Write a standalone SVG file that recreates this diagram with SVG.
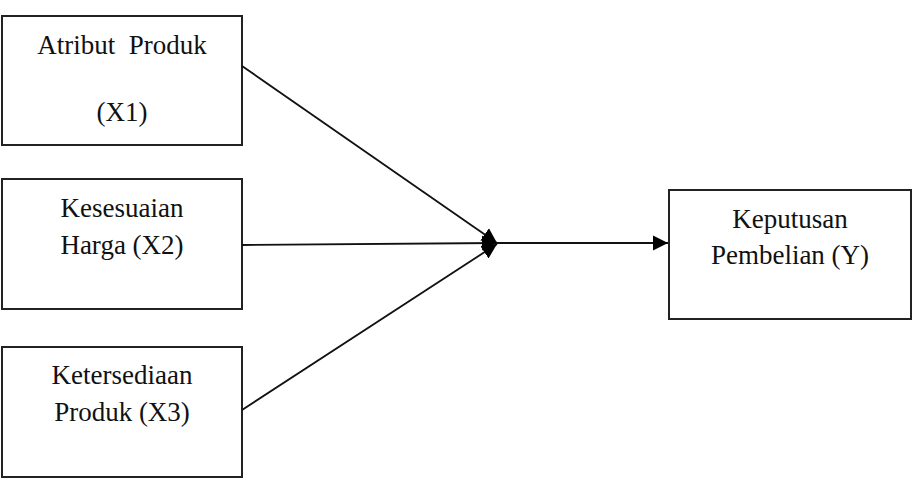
<svg xmlns="http://www.w3.org/2000/svg" width="913" height="483" viewBox="0 0 913 483">
<style>
.box{fill:#fff;stroke:#222;stroke-width:2}
.t{font-family:"Liberation Serif","Times New Roman",serif;font-size:27px;fill:#111;text-anchor:middle}
.ln{stroke:#111;stroke-width:1.8;fill:none}
</style>
<defs>
<marker id="ah" markerUnits="userSpaceOnUse" markerWidth="16" markerHeight="16" refX="15" refY="8" orient="auto">
<path d="M0,0.5 L15,8 L0,15.5 Z" fill="#000"/>
</marker>
</defs>
<rect width="913" height="483" fill="#fff"/>
<g id="x1">
<rect class="box" x="2" y="16" width="240" height="129"/>
<text class="t" x="122" y="54" xml:space="preserve">Atribut  Produk</text>
<text class="t" x="122" y="121">(X1)</text>
</g>
<g id="x2">
<rect class="box" x="2" y="179" width="240" height="130"/>
<text class="t" x="122" y="217">Kesesuaian</text>
<text class="t" x="122" y="254">Harga (X2)</text>
</g>
<g id="x3">
<rect class="box" x="2" y="347" width="240" height="130"/>
<text class="t" x="122" y="384">Ketersediaan</text>
<text class="t" x="122" y="421">Produk (X3)</text>
</g>
<g id="y">
<rect class="box" x="669" y="190" width="242" height="129"/>
<text class="t" x="790" y="228">Keputusan</text>
<text class="t" x="790" y="264">Pembelian (Y)</text>
</g>
<g id="connectors">
<line class="ln" x1="242" y1="66" x2="497" y2="243" marker-end="url(#ah)"/>
<line class="ln" x1="242" y1="245" x2="497" y2="243" marker-end="url(#ah)"/>
<line class="ln" x1="242" y1="410" x2="497" y2="244" marker-end="url(#ah)"/>
<line class="ln" x1="497" y1="243" x2="668" y2="243" marker-end="url(#ah)"/>
</g>
</svg>
